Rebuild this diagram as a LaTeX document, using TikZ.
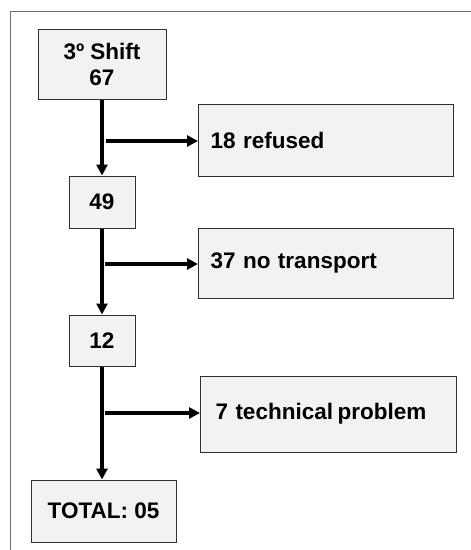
\documentclass[tikz,border=0pt]{standalone}
\usepackage{fontspec}
\setmainfont{Liberation Sans}
\usetikzlibrary{arrows.meta}
\definecolor{boxfill}{HTML}{F2F2F2}
\definecolor{boxline}{HTML}{303030}
\definecolor{frameline}{HTML}{707070}
\begin{document}
\begin{tikzpicture}[x=1pt,y=-1pt,
  box/.style={draw=boxline,line width=1pt,fill=boxfill,rectangle,inner sep=0pt,
    font=\fontsize{22.5}{26}\selectfont\bfseries,align=center},
  wbox/.style={box,align=left,inner xsep=#1,anchor=west},
  flow/.style={line width=3.2pt,-{Triangle[length=11pt,width=11pt]}}]
\useasboundingbox (0,0) rectangle (471,550);
\draw[frameline,line width=1pt] (10,550) -- (10,11) -- (471,11);

\node[box,minimum width=128pt,minimum height=70pt] (top) at (102,64) {3º Shift\\67};
\node[box,minimum width=66pt,minimum height=52pt] (n49) at (102,202) {49};
\node[box,minimum width=66pt,minimum height=51pt] (n12) at (102,340.5) {12};
\node[box,minimum width=145pt,minimum height=62pt] (total) at (103.5,511) {TOTAL: 05};

\node[wbox=12pt,text width=231pt,minimum height=72pt] (ref) at (198,140) {18 refused};
\node[wbox=12pt,text width=231pt,minimum height=70pt] (trans) at (198,263) {37 no transport};
\node[wbox=15pt,text width=226pt,minimum height=76pt] (tech) at (200,414) {7 technical\hspace{-3pt} problem};

\coordinate (b1) at (106,141);
\coordinate (b2) at (105,264);
\coordinate (b3) at (105,413);

\draw[flow] (top.south) -- (n49.north);
\draw[flow] (n49.south) -- (n12.north);
\draw[flow] (n12.south) -- (n12.south |- total.north);
\draw[flow] (b1) -- (b1 -| ref.west);
\draw[flow] (b2) -- (b2 -| trans.west);
\draw[flow] (b3) -- (b3 -| tech.west);
\end{tikzpicture}
\end{document}
